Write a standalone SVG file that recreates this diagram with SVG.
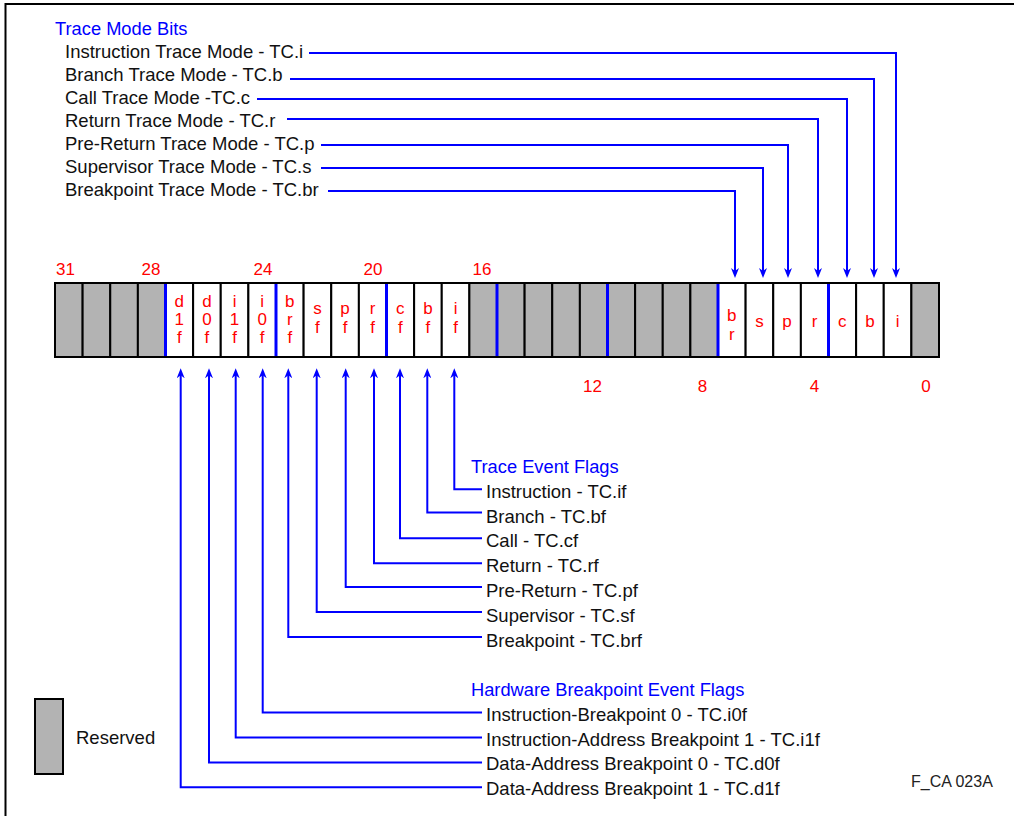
<svg xmlns="http://www.w3.org/2000/svg" width="1014" height="816" viewBox="0 0 1014 816">
<defs>
<style>
.t{font-family:"Liberation Sans",Arial,sans-serif;font-size:18.5px;fill:#111}
.h{font-family:"Liberation Sans",Arial,sans-serif;font-size:18.3px;fill:#0000ff}
.n{font-family:"Liberation Sans",Arial,sans-serif;font-size:17px;fill:#ff0000;text-anchor:middle}
.c{font-family:"Liberation Sans",Arial,sans-serif;font-size:17px;fill:#ff0000;text-anchor:middle}
.w{fill:#ffffff;stroke:#000;stroke-width:2}
.g{fill:#b3b3b3;stroke:#000;stroke-width:2}
.conn path{fill:none;stroke:#0000ff;stroke-width:2;marker-end:url(#ah)}
.nib line{stroke:#0000ff;stroke-width:3}
</style>
<marker id="ah" viewBox="0 0 10 8" refX="6" refY="4" markerWidth="10" markerHeight="8" orient="auto" markerUnits="userSpaceOnUse">
<path d="M0,0 L10,4 L0,8 L3,4 z" fill="#0000ff"/>
</marker>
</defs>
<rect width="1014" height="816" fill="#fff"/>
<path d="M5.5,816 V4 H1014" fill="none" stroke="#000" stroke-width="2"/>

<g id="trace-mode-bits">
<text class="h" x="55" y="35">Trace Mode Bits</text>
<text class="t" x="65" y="58">Instruction Trace Mode - TC.i</text>
<text class="t" x="65" y="81">Branch Trace Mode - TC.b</text>
<text class="t" x="65" y="104">Call Trace Mode -TC.c</text>
<text class="t" x="65" y="127">Return Trace Mode - TC.r</text>
<text class="t" x="65" y="150">Pre-Return Trace Mode - TC.p</text>
<text class="t" x="65" y="173">Supervisor Trace Mode - TC.s</text>
<text class="t" x="65" y="196">Breakpoint Trace Mode - TC.br</text>
</g>

<g id="bit-numbers">
<text class="n" x="65.5" y="275">31</text>
<text class="n" x="151" y="275">28</text>
<text class="n" x="263" y="275">24</text>
<text class="n" x="373" y="275">20</text>
<text class="n" x="482" y="275">16</text>
<text class="n" x="592.5" y="392">12</text>
<text class="n" x="702.5" y="392">8</text>
<text class="n" x="814.5" y="392">4</text>
<text class="n" x="926" y="392">0</text>
</g>

<g id="register">
<g id="bit31"><rect class="g" x="55" y="283" width="27.625" height="74"/></g>
<g id="bit30"><rect class="g" x="82.625" y="283" width="27.625" height="74"/></g>
<g id="bit29"><rect class="g" x="110.25" y="283" width="27.625" height="74"/></g>
<g id="bit28"><rect class="g" x="137.875" y="283" width="27.625" height="74"/></g>
<g id="bit27"><rect class="w" x="165.5" y="283" width="27.625" height="74"/><text class="c" x="179.3"><tspan x="179.3" y="307.3">d</tspan><tspan x="179.3" y="325">1</tspan><tspan x="179.3" y="343.3">f</tspan></text></g>
<g id="bit26"><rect class="w" x="193.125" y="283" width="27.625" height="74"/><text class="c" x="206.9"><tspan x="206.9" y="307.3">d</tspan><tspan x="206.9" y="325">0</tspan><tspan x="206.9" y="343.3">f</tspan></text></g>
<g id="bit25"><rect class="w" x="220.75" y="283" width="27.625" height="74"/><text class="c" x="234.6"><tspan x="234.6" y="307.3">i</tspan><tspan x="234.6" y="325">1</tspan><tspan x="234.6" y="343.3">f</tspan></text></g>
<g id="bit24"><rect class="w" x="248.375" y="283" width="27.625" height="74"/><text class="c" x="262.2"><tspan x="262.2" y="307.3">i</tspan><tspan x="262.2" y="325">0</tspan><tspan x="262.2" y="343.3">f</tspan></text></g>
<g id="bit23"><rect class="w" x="276" y="283" width="27.625" height="74"/><text class="c" x="289.8"><tspan x="289.8" y="307.3">b</tspan><tspan x="289.8" y="325">r</tspan><tspan x="289.8" y="343.3">f</tspan></text></g>
<g id="bit22"><rect class="w" x="303.625" y="283" width="27.625" height="74"/><text class="c" x="317.4"><tspan x="317.4" y="314.3">s</tspan><tspan x="317.4" y="333.3">f</tspan></text></g>
<g id="bit21"><rect class="w" x="331.25" y="283" width="27.625" height="74"/><text class="c" x="345.1"><tspan x="345.1" y="314.3">p</tspan><tspan x="345.1" y="333.3">f</tspan></text></g>
<g id="bit20"><rect class="w" x="358.875" y="283" width="27.625" height="74"/><text class="c" x="372.7"><tspan x="372.7" y="314.3">r</tspan><tspan x="372.7" y="333.3">f</tspan></text></g>
<g id="bit19"><rect class="w" x="386.5" y="283" width="27.625" height="74"/><text class="c" x="400.3"><tspan x="400.3" y="314.3">c</tspan><tspan x="400.3" y="333.3">f</tspan></text></g>
<g id="bit18"><rect class="w" x="414.125" y="283" width="27.625" height="74"/><text class="c" x="427.9"><tspan x="427.9" y="314.3">b</tspan><tspan x="427.9" y="333.3">f</tspan></text></g>
<g id="bit17"><rect class="w" x="441.75" y="283" width="27.625" height="74"/><text class="c" x="455.6"><tspan x="455.6" y="314.3">i</tspan><tspan x="455.6" y="333.3">f</tspan></text></g>
<g id="bit16"><rect class="g" x="469.375" y="283" width="27.625" height="74"/></g>
<g id="bit15"><rect class="g" x="497" y="283" width="27.625" height="74"/></g>
<g id="bit14"><rect class="g" x="524.625" y="283" width="27.625" height="74"/></g>
<g id="bit13"><rect class="g" x="552.25" y="283" width="27.625" height="74"/></g>
<g id="bit12"><rect class="g" x="579.875" y="283" width="27.625" height="74"/></g>
<g id="bit11"><rect class="g" x="607.5" y="283" width="27.625" height="74"/></g>
<g id="bit10"><rect class="g" x="635.125" y="283" width="27.625" height="74"/></g>
<g id="bit9"><rect class="g" x="662.75" y="283" width="27.625" height="74"/></g>
<g id="bit8"><rect class="g" x="690.375" y="283" width="27.625" height="74"/></g>
<g id="bit7"><rect class="w" x="718" y="283" width="27.625" height="74"/><text class="c" x="731.8"><tspan x="731.8" y="320.7">b</tspan><tspan x="731.8" y="340">r</tspan></text></g>
<g id="bit6"><rect class="w" x="745.625" y="283" width="27.625" height="74"/><text class="c" x="759.4" y="326.7">s</text></g>
<g id="bit5"><rect class="w" x="773.25" y="283" width="27.625" height="74"/><text class="c" x="787.1" y="326.7">p</text></g>
<g id="bit4"><rect class="w" x="800.875" y="283" width="27.625" height="74"/><text class="c" x="814.7" y="326.7">r</text></g>
<g id="bit3"><rect class="w" x="828.5" y="283" width="27.625" height="74"/><text class="c" x="842.3" y="326.7">c</text></g>
<g id="bit2"><rect class="w" x="856.125" y="283" width="27.625" height="74"/><text class="c" x="869.9" y="326.7">b</text></g>
<g id="bit1"><rect class="w" x="883.75" y="283" width="27.625" height="74"/><text class="c" x="897.6" y="326.7">i</text></g>
<g id="bit0"><rect class="g" x="911.375" y="283" width="27.625" height="74"/></g>
<g class="nib" id="nibble-marks">
<line x1="165.5" y1="284" x2="165.5" y2="356"/>
<line x1="276" y1="284" x2="276" y2="356"/>
<line x1="386.5" y1="284" x2="386.5" y2="356"/>
<line x1="497" y1="284" x2="497" y2="356"/>
<line x1="607.5" y1="284" x2="607.5" y2="356"/>
<line x1="718" y1="284" x2="718" y2="356"/>
<line x1="828.5" y1="284" x2="828.5" y2="356"/>
</g>
</g>

<g id="trace-event-flags">
<text class="h" x="471" y="473">Trace Event Flags</text>
<text class="t" x="486" y="498">Instruction - TC.if</text>
<text class="t" x="486" y="522.5">Branch - TC.bf</text>
<text class="t" x="486" y="547.3">Call - TC.cf</text>
<text class="t" x="486" y="572.3">Return - TC.rf</text>
<text class="t" x="486" y="596.7">Pre-Return - TC.pf</text>
<text class="t" x="486" y="621.7">Supervisor - TC.sf</text>
<text class="t" x="486" y="646.7">Breakpoint - TC.brf</text>
</g>

<g id="hw-breakpoint-flags">
<text class="h" x="471" y="696">Hardware Breakpoint Event Flags</text>
<text class="t" x="486" y="720.7">Instruction-Breakpoint 0 - TC.i0f</text>
<text class="t" x="486" y="745.7">Instruction-Address Breakpoint 1 - TC.i1f</text>
<text class="t" x="486" y="770">Data-Address Breakpoint 0 - TC.d0f</text>
<text class="t" x="486" y="795">Data-Address Breakpoint 1 - TC.d1f</text>
</g>

<g id="legend">
<rect class="g" x="35" y="699" width="28" height="75"/>
<text class="t" x="76" y="744">Reserved</text>
</g>

<g id="figure-id">
<text x="911" y="787" style="font-family:'Liberation Sans',Arial,sans-serif;font-size:16px;fill:#222">F_CA 023A</text>
</g>

<g class="conn" id="connectors">
<path d="M309,53 H896 V274"/>
<path d="M290,79 H874 V274"/>
<path d="M257,99 H847 V274"/>
<path d="M287,119 H818 V274"/>
<path d="M321,145 H788 V274"/>
<path d="M321,168 H763 V274"/>
<path d="M328,191 H735 V274"/>
<path d="M482,489.3 H454.3 V372.3"/>
<path d="M482,512.5 H427.3 V372.3"/>
<path d="M482,538.3 H400 V372.3"/>
<path d="M482,563.3 H374 V372.3"/>
<path d="M482,587 H345.7 V372.3"/>
<path d="M482,612 H316.7 V372.3"/>
<path d="M482,637 H288.3 V372.3"/>
<path d="M482,712.5 H262.7 V372.3"/>
<path d="M482,737.5 H235.7 V372.3"/>
<path d="M482,762.5 H209 V372.3"/>
<path d="M482,787.3 H180.7 V372.3"/>
</g>
</svg>
